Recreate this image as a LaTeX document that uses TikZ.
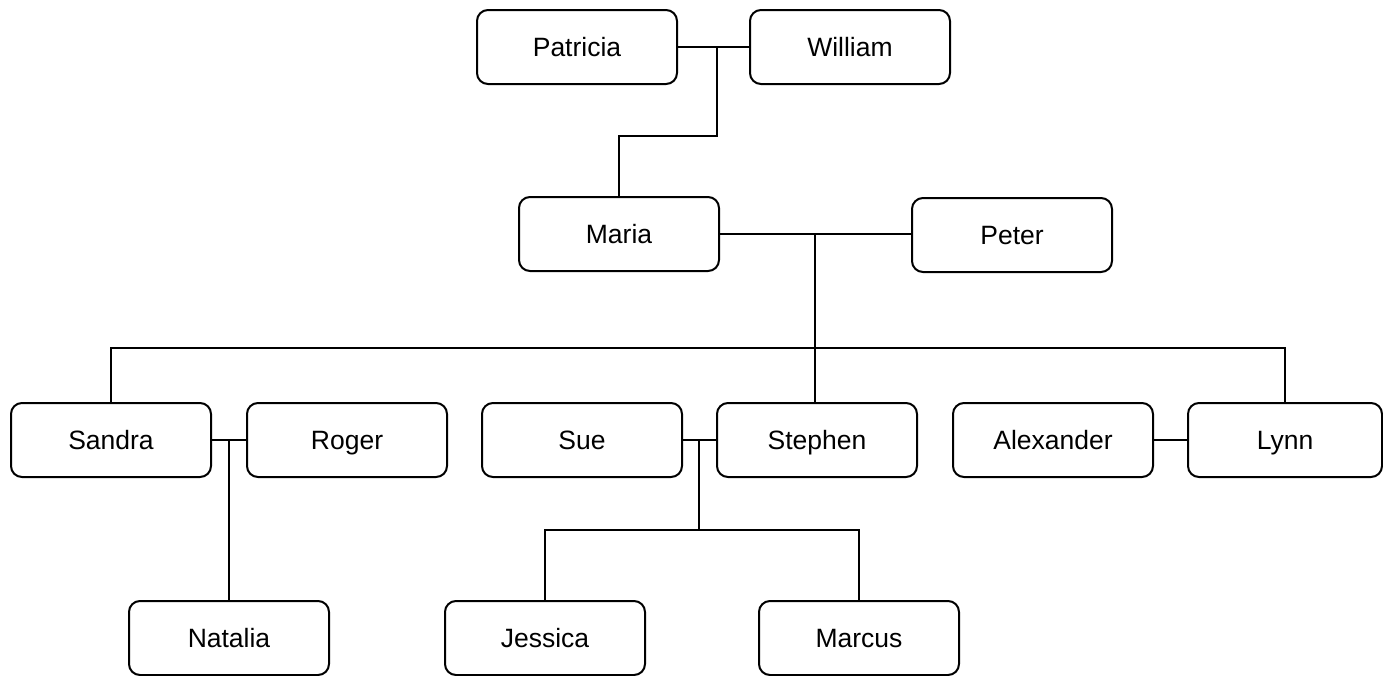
\documentclass[tikz,border=0pt]{standalone}
\usepackage{fontspec}
\setmainfont{Liberation Sans}
\begin{document}
\begin{tikzpicture}[x=1pt,y=-1pt,
  person/.style={draw=black, line width=2pt, rounded corners=11pt, fill=white,
    minimum width=200pt, minimum height=74pt, inner sep=0pt,
    text height=19pt, text depth=0pt,
    font=\fontsize{26.5}{31}\selectfont},
  link/.style={draw=black, line width=2pt}]
\useasboundingbox (0,0) rectangle (1383,675);
\clip (0,0) rectangle (1383,675);
% nodes
\node[person] (patricia) at (577,47) {Patricia};
\node[person] (william) at (850,47) {William};
\node[person] (maria) at (619,234) {Maria};
\node[person] (peter) at (1012,235) {Peter};
\node[person] (sandra) at (111,440) {Sandra};
\node[person] (roger) at (347,440) {Roger};
\node[person] (sue) at (582,440) {Sue};
\node[person] (stephen) at (817,440) {Stephen};
\node[person] (alexander) at (1053,440) {Alexander};
\node[person, minimum width=194pt] (lynn) at (1285,440) {Lynn};
\node[person] (natalia) at (229,638) {Natalia};
\node[person] (jessica) at (545,638) {Jessica};
\node[person] (marcus) at (859,638) {Marcus};
% junction coordinates
\coordinate (pw) at (717,47);
\coordinate (pwbend) at (717,136);
\coordinate (mp) at (815,234);
\coordinate (bar) at (0,348);
\coordinate (sr) at (229,440);
\coordinate (ss) at (699,440);
\coordinate (ssbar) at (699,530);
% connectors
\draw[link] (patricia.east) -- (william.west);
\draw[link] (pw) -- (pwbend) -| (maria.north);
\draw[link] (maria.east) -- (maria.east -| peter.west);
\draw[link] (mp) -- (mp |- stephen.north);
\draw[link] (sandra.north) -- (sandra.north |- bar) -- (lynn.north |- bar) -- (lynn.north);
\draw[link] (sandra.east) -- (roger.west);
\draw[link] (sr) -- (natalia.north);
\draw[link] (sue.east) -- (stephen.west);
\draw[link] (ss) -- (ssbar);
\draw[link] (jessica.north) -- (jessica.north |- ssbar) -- (marcus.north |- ssbar) -- (marcus.north);
\draw[link] (alexander.east) -- (lynn.west);
\end{tikzpicture}
\end{document}
